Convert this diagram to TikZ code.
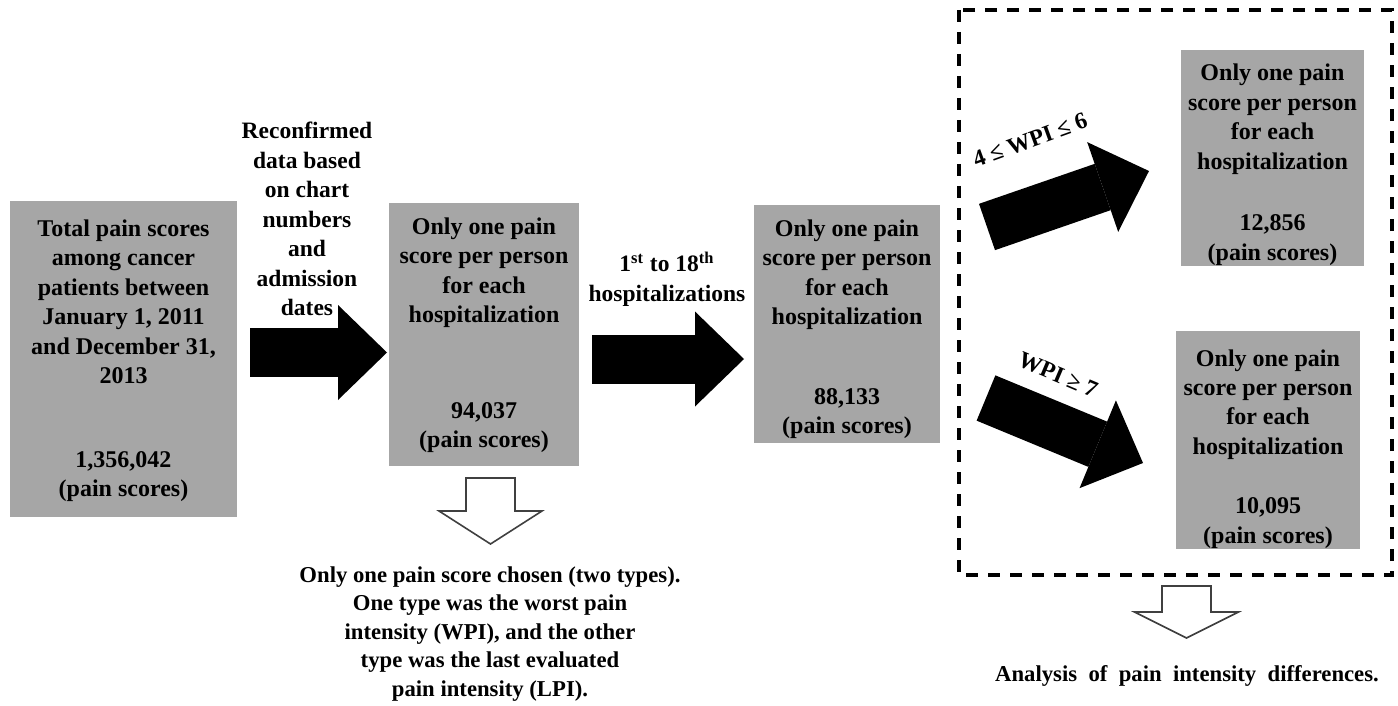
\documentclass[tikz,border=0pt]{standalone}
\usepackage{fontspec}
\setmainfont{Liberation Serif}
\usepackage{xcolor}
\usepackage{tikz}
\usetikzlibrary{arrows.meta}

\definecolor{boxgray}{RGB}{166,166,166}
\definecolor{hollowline}{RGB}{64,64,64}

\begin{document}
\begin{tikzpicture}[x=0.5pt,y=-0.5pt,
    box/.style={rectangle,fill=boxgray,align=center,inner sep=0pt,
        font=\bfseries\fontsize{12}{14.75}\selectfont},
    lbl/.style={align=center,inner sep=0pt,
        font=\bfseries\fontsize{11.75}{14.75}\selectfont},
    note/.style={align=center,inner sep=0pt,
        font=\bfseries\fontsize{11.35}{14.25}\selectfont},
    fat/.style={line width=24.5pt,
        -{Triangle[width=47.5pt,length=24.5pt,line width=0pt]}},
    hollow/.style={draw=hollowline,fill=white,line width=0.8pt},
    region/.style={line width=1.8pt,dash pattern=on 6pt off 5pt}]
    \useasboundingbox (0,0) rectangle (1398,706);

    % boxes
    \node[box,minimum width=113.5pt,minimum height=158pt] (total) at (123.5,359)
        {\rule{0pt}{10.3pt}Total pain scores\\among cancer\\patients between\\January 1, 2011\\and December 31,\\2013\\[27pt]1,356,042\\(pain scores)};
    \node[box,minimum width=95pt,minimum height=131.5pt] (single) at (484,334.5)
        {\rule{0pt}{9.3pt}Only one pain\\score per person\\for each\\hospitalization\\[33pt]94,037\\(pain scores)};
    \node[box,minimum width=93pt,minimum height=119pt] (stays) at (847,324)
        {\rule{0pt}{13.8pt}Only one pain\\score per person\\for each\\hospitalization\\[25pt]88,133\\(pain scores)};
    \node[box,minimum width=91.5pt,minimum height=107pt] (midwpi) at (1272.5,158)
        {\rule{0pt}{15.3pt}Only one pain\\score per person\\for each\\hospitalization\\[16pt]12,856\\(pain scores)};
    \node[box,minimum width=92pt,minimum height=107pt] (highwpi) at (1268,440)
        {\rule{0pt}{17.3pt}Only one pain\\score per person\\for each\\hospitalization\\[15pt]10,095\\(pain scores)};

    % arrow labels
    \node[lbl] (reconf) at (307,219) {Reconfirmed\\data based\\on chart\\numbers\\and\\admission\\dates};
    \node[lbl] (range) at (667,279) {1\textsuperscript{st} to 18\textsuperscript{th}\\hospitalizations};
    \node[lbl,rotate=20] (midlbl) at (1030,140) {4 ≤ WPI ≤ 6};
    \node[lbl,rotate=-23] (highlbl) at (1058,375) {WPI ≥ 7};

    % block arrows
    \coordinate (a1s) at (250,352.5);
    \coordinate (a1e) at (387,352.5);
    \coordinate (a2s) at (592,359);
    \coordinate (a2e) at (744,359);
    \coordinate (a3s) at (987,227);
    \coordinate (a3e) at (1149,171);
    \coordinate (a4s) at (986,398);
    \coordinate (a4e) at (1143,463);
    \draw[fat] (a1s) -- (a1e);
    \draw[fat] (a2s) -- (a2e);
    \draw[fat] (a3s) -- (a3e);
    \draw[fat] (a4s) -- (a4e);

    % dashed region
    \draw[region] (959,10) rectangle (1392,575);

    % hollow arrows
    \coordinate (dn1) at (490.5,478);
    \draw[hollow] (dn1) -- ++(24.5,0) -- ++(0,33) -- ++(27,0) -- ++(-51.5,33)
        -- ++(-51.5,-33) -- ++(27,0) -- ++(0,-33) -- cycle;
    \coordinate (dn2) at (1186.5,586);
    \draw[hollow] (dn2) -- ++(24.5,0) -- ++(0,26) -- ++(27.5,0) -- ++(-52,26)
        -- ++(-52,-26) -- ++(27.5,0) -- ++(0,-26) -- cycle;

    % notes
    \node[note] (choice) at (490,634) {Only one pain score chosen (two types).\\One type was the worst pain\\intensity (WPI), and the other\\type was the last evaluated\\pain intensity (LPI).};
    \node[note] (analysis) at (1187,676) {\spaceskip=0.5em Analysis of pain intensity differences.};
\end{tikzpicture}
\end{document}
